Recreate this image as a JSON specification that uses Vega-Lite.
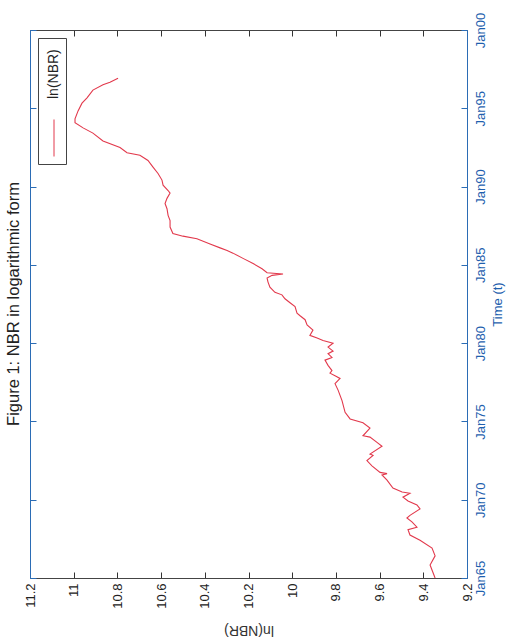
{
  "$schema": "https://vega.github.io/schema/vega-lite/v6.json",
  "width": 437,
  "height": 548,
  "autosize": {"type": "none"},
  "padding": {"left": 30, "top": 30, "right": 44, "bottom": 63},
  "background": "white",
  "config": {
    "view": {"stroke": null},
    "font": "Liberation Sans"
  },
  "title": {
    "text": "Figure 1: NBR in logarithmic form",
    "orient": "left",
    "anchor": "middle",
    "fontSize": 16.5,
    "fontWeight": "normal",
    "color": "#222222",
    "font": "Liberation Sans",
    "offset": 2
  },
  "data": {
    "values": [
      {"t": "1965-01-01", "v": 9.346},
      {"t": "1965-11-01", "v": 9.369},
      {"t": "1966-06-01", "v": 9.346},
      {"t": "1966-12-01", "v": 9.360},
      {"t": "1967-06-01", "v": 9.415},
      {"t": "1967-10-01", "v": 9.461},
      {"t": "1968-02-01", "v": 9.470},
      {"t": "1968-04-01", "v": 9.429},
      {"t": "1968-08-01", "v": 9.452},
      {"t": "1968-11-01", "v": 9.475},
      {"t": "1969-01-01", "v": 9.461},
      {"t": "1969-06-01", "v": 9.415},
      {"t": "1969-09-01", "v": 9.429},
      {"t": "1969-12-01", "v": 9.470},
      {"t": "1970-03-01", "v": 9.493},
      {"t": "1970-06-01", "v": 9.461},
      {"t": "1970-07-01", "v": 9.497},
      {"t": "1970-10-01", "v": 9.539},
      {"t": "1971-04-01", "v": 9.566},
      {"t": "1971-08-01", "v": 9.589},
      {"t": "1971-09-01", "v": 9.566},
      {"t": "1971-10-01", "v": 9.598},
      {"t": "1972-03-01", "v": 9.635},
      {"t": "1972-07-01", "v": 9.658},
      {"t": "1972-11-01", "v": 9.630},
      {"t": "1972-12-01", "v": 9.644},
      {"t": "1973-06-01", "v": 9.589},
      {"t": "1973-09-01", "v": 9.612},
      {"t": "1974-01-01", "v": 9.644},
      {"t": "1974-02-01", "v": 9.676},
      {"t": "1974-08-01", "v": 9.644},
      {"t": "1974-12-01", "v": 9.676},
      {"t": "1975-03-01", "v": 9.735},
      {"t": "1975-08-01", "v": 9.758},
      {"t": "1976-05-01", "v": 9.772},
      {"t": "1977-01-01", "v": 9.790},
      {"t": "1977-06-01", "v": 9.804},
      {"t": "1977-10-01", "v": 9.781},
      {"t": "1977-12-01", "v": 9.804},
      {"t": "1978-02-01", "v": 9.827},
      {"t": "1978-04-01", "v": 9.818},
      {"t": "1978-08-01", "v": 9.836},
      {"t": "1978-12-01", "v": 9.850},
      {"t": "1979-02-01", "v": 9.818},
      {"t": "1979-05-01", "v": 9.836},
      {"t": "1979-07-01", "v": 9.813},
      {"t": "1979-10-01", "v": 9.836},
      {"t": "1980-01-01", "v": 9.813},
      {"t": "1980-03-01", "v": 9.859},
      {"t": "1980-05-01", "v": 9.886},
      {"t": "1980-07-01", "v": 9.919},
      {"t": "1980-11-01", "v": 9.905},
      {"t": "1981-03-01", "v": 9.932},
      {"t": "1981-07-01", "v": 9.941},
      {"t": "1981-10-01", "v": 9.964},
      {"t": "1981-12-01", "v": 9.978},
      {"t": "1982-05-01", "v": 9.987},
      {"t": "1982-08-01", "v": 10.010},
      {"t": "1982-11-01", "v": 10.033},
      {"t": "1983-02-01", "v": 10.047},
      {"t": "1983-04-01", "v": 10.079},
      {"t": "1983-08-01", "v": 10.102},
      {"t": "1983-12-01", "v": 10.111},
      {"t": "1984-03-01", "v": 10.115},
      {"t": "1984-05-01", "v": 10.092},
      {"t": "1984-06-01", "v": 10.042},
      {"t": "1984-07-01", "v": 10.115},
      {"t": "1984-10-01", "v": 10.138},
      {"t": "1985-02-01", "v": 10.179},
      {"t": "1985-06-01", "v": 10.225},
      {"t": "1985-10-01", "v": 10.271},
      {"t": "1985-12-01", "v": 10.298},
      {"t": "1986-02-01", "v": 10.330},
      {"t": "1986-05-01", "v": 10.376},
      {"t": "1986-09-01", "v": 10.436},
      {"t": "1986-11-01", "v": 10.500},
      {"t": "1987-01-01", "v": 10.546},
      {"t": "1987-06-01", "v": 10.559},
      {"t": "1987-11-01", "v": 10.559},
      {"t": "1988-03-01", "v": 10.568},
      {"t": "1988-08-01", "v": 10.573},
      {"t": "1988-12-01", "v": 10.582},
      {"t": "1989-04-01", "v": 10.573},
      {"t": "1989-08-01", "v": 10.559},
      {"t": "1989-10-01", "v": 10.568},
      {"t": "1990-02-01", "v": 10.591},
      {"t": "1990-06-01", "v": 10.596},
      {"t": "1990-11-01", "v": 10.614},
      {"t": "1991-04-01", "v": 10.637},
      {"t": "1991-09-01", "v": 10.660},
      {"t": "1992-01-01", "v": 10.697},
      {"t": "1992-03-01", "v": 10.756},
      {"t": "1992-07-01", "v": 10.788},
      {"t": "1992-12-01", "v": 10.866},
      {"t": "1993-06-01", "v": 10.912},
      {"t": "1993-10-01", "v": 10.957},
      {"t": "1994-02-01", "v": 10.994},
      {"t": "1994-05-01", "v": 10.994},
      {"t": "1994-11-01", "v": 10.980},
      {"t": "1995-05-01", "v": 10.962},
      {"t": "1995-09-01", "v": 10.939},
      {"t": "1996-03-01", "v": 10.912},
      {"t": "1996-07-01", "v": 10.866},
      {"t": "1996-09-01", "v": 10.834},
      {"t": "1996-12-01", "v": 10.797}
    ]
  },
  "layer": [
    {
      "mark": {"type": "line", "strokeWidth": 1.1, "interpolate": "linear"},
      "encoding": {
        "x": {
          "field": "v",
          "type": "quantitative",
          "scale": {"domain": [9.2, 11.2], "reverse": true, "zero": false, "nice": false},
          "axis": {
            "orient": "bottom",
            "values": [9.2, 9.4, 9.6, 9.8, 10, 10.2, 10.4, 10.6, 10.8, 11, 11.2],
            "format": "~g",
            "grid": false,
            "ticks": true,
            "domainColor": "#444444",
            "tickColor": "#333333",
            "tickWidth": 1,
            "tickSize": -6,
            "labelAngle": -90,
            "labelAlign": "right",
            "labelBaseline": "middle",
            "labelPadding": 11,
            "labelFontSize": 13,
            "labelColor": "#222222",
            "labelFont": "Liberation Sans",
            "title": "ln(NBR)",
            "titleAngle": 180,
            "titleBaseline": "bottom",
            "titleFontSize": 14,
            "titleFontWeight": "normal",
            "titleColor": "#333333",
            "titleFont": "Liberation Sans",
            "titlePadding": 14
          }
        },
        "y": {
          "field": "t",
          "type": "temporal",
          "scale": {"type": "utc", "domain": [{"year": 1965, "month": 1, "date": 1, "utc": true}, {"year": 2000, "month": 1, "date": 1, "utc": true}], "nice": false},
          "axis": {
            "orient": "right",
            "values": [
              {"year": 1965, "month": 1, "date": 1, "utc": true},
              {"year": 1970, "month": 1, "date": 1, "utc": true},
              {"year": 1975, "month": 1, "date": 1, "utc": true},
              {"year": 1980, "month": 1, "date": 1, "utc": true},
              {"year": 1985, "month": 1, "date": 1, "utc": true},
              {"year": 1990, "month": 1, "date": 1, "utc": true},
              {"year": 1995, "month": 1, "date": 1, "utc": true},
              {"year": 2000, "month": 1, "date": 1, "utc": true}
            ],
            "labelExpr": "utcFormat(datum.value, '%b%y')",
            "grid": false,
            "ticks": true,
            "domainColor": "#2b6cb5",
            "tickColor": "#2b6cb5",
            "tickWidth": 1,
            "tickSize": -6,
            "labelAngle": -90,
            "labelAlign": "center",
            "labelBaseline": "top",
            "labelPadding": 13,
            "labelFontSize": 13,
            "labelColor": "#1f5fae",
            "labelFont": "Liberation Sans",
            "labelFlush": false,
            "labelOverlap": false,
            "title": "Time (t)",
            "titleAngle": -90,
            "titleFontSize": 13,
            "titleFontWeight": "normal",
            "titleColor": "#1f5fae",
            "titleFont": "Liberation Sans",
            "titlePadding": 17
          }
        },
        "color": {
          "datum": "ln(NBR)",
          "type": "nominal",
          "scale": {"range": ["#e2394c"]},
          "legend": {
            "title": null,
            "orient": "top-left",
            "offset": 8,
            "padding": 5,
            "strokeColor": "#444444",
            "fillColor": "white",
            "symbolType": "M0,-1L0,-1M0,0.345L0,1",
            "symbolSize": 12769,
            "symbolOffset": -46,
            "symbolStrokeWidth": 1,
            "symbolStrokeColor": "#e2394c",
            "labelFontSize": 14,
            "labelColor": "#222222",
            "labelFont": "Liberation Sans",
            "labelOffset": 4,
            "encode": {
              "labels": {
                "update": {
                  "x": {"value": 10.5},
                  "y": {"value": 56},
                  "angle": {"value": -90},
                  "align": {"value": "left"},
                  "baseline": {"value": "middle"},
                  "dx": {"value": 0},
                  "dy": {"value": 0}
                }
              }
            }
          }
        }
      }
    },
    {
      "mark": {"type": "line", "strokeOpacity": 0},
      "encoding": {
        "x": {
          "field": "v",
          "type": "quantitative",
          "axis": {
            "orient": "top",
            "values": [9.2, 9.4, 9.6, 9.8, 10, 10.2, 10.4, 10.6, 10.8, 11, 11.2],
            "labels": false,
            "title": null,
            "grid": false,
            "ticks": true,
            "minExtent": 0,
            "maxExtent": 0,
            "domainColor": "#444444",
            "tickColor": "#333333",
            "tickWidth": 1,
            "tickSize": -6
          }
        },
        "y": {
          "field": "t",
          "type": "temporal",
          "axis": {
            "orient": "left",
            "values": [
              {"year": 1965, "month": 1, "date": 1, "utc": true},
              {"year": 1970, "month": 1, "date": 1, "utc": true},
              {"year": 1975, "month": 1, "date": 1, "utc": true},
              {"year": 1980, "month": 1, "date": 1, "utc": true},
              {"year": 1985, "month": 1, "date": 1, "utc": true},
              {"year": 1990, "month": 1, "date": 1, "utc": true},
              {"year": 1995, "month": 1, "date": 1, "utc": true},
              {"year": 2000, "month": 1, "date": 1, "utc": true}
            ],
            "labels": false,
            "title": null,
            "grid": false,
            "ticks": true,
            "minExtent": 0,
            "maxExtent": 0,
            "domainColor": "#2b6cb5",
            "tickColor": "#2b6cb5",
            "tickWidth": 1,
            "tickSize": -6
          }
        }
      }
    }
  ],
  "resolve": {"axis": {"x": "independent", "y": "independent"}}
}
